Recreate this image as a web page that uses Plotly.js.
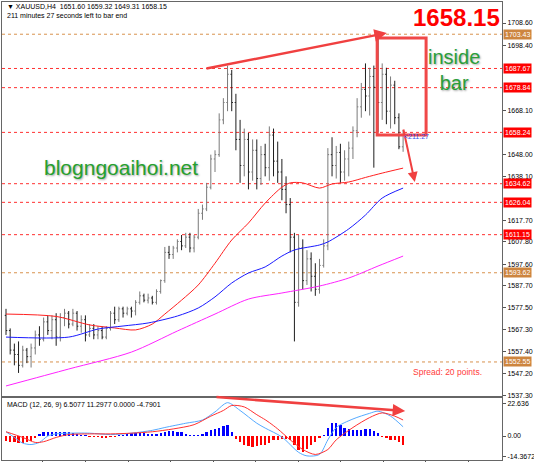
<!DOCTYPE html>
<html><head><meta charset="utf-8">
<script src="https://cdn.plot.ly/plotly-3.0.1.min.js"></script>
<style>html,body{margin:0;padding:0;background:#fff}#chart{width:534px;height:462px}</style>
</head><body><div id="chart"></div>
<script>
// ---- OHLC (XAUUSD, H4) ----
const openP  = [1574,1567,1558,1556,1551,1558,1555,1559,1565,1563,1571,1567,1572,1564,1573,1575,1570,1575,1569,1572,
                1565,1568,1565,1567,1564,1568,1575,1572,1577,1575,1577,1576,1580,1583,1581,1582,1580,1585,1590,1603,
                1602,1605,1608,1606,1610,1605,1610,1621,1623,1633,1646,1648,1664,1672,1685,1672,1655,1643,1655,1640,
                1650,1637,1648,1642,1657,1645,1640,1632,1625,1610,1580,1605,1590,1600,1592,1586,1597,1606,1648,1643,
                1649,1640,1646,1651,1659,1670,1678,1675,1684,1679,1672,1685,1668,1680,1665,1651.60];
const highP  = [1577,1568,1561,1562,1560,1559,1561,1567,1569,1573,1574,1574,1575,1575,1577,1576,1577,1576,1574,1574,
                1570,1570,1569,1569,1569,1576,1578,1578,1578,1578,1578,1581,1585,1584,1584,1583,1586,1590.5,1605.5,1606,
                1606,1609,1611,1612,1612,1611,1623,1625,1635,1648,1650,1667,1674,1689,1687,1676,1664,1660,1658,1655,
                1655,1652,1653,1661,1660,1654,1646,1638,1628,1612,1611,1609,1604,1603,1598,1600,1609,1651,1656,1652,
                1653,1650,1654,1661,1674,1681,1690,1688,1689,1703.43,1690,1688,1684,1682,1667,1659.32];
const lowP   = [1565,1556,1551,1547.5,1550,1552,1550,1556,1560,1562,1565,1563,1560,1562,1569,1568,1569,1567,1566,1562,
                1564,1563,1563,1563,1563,1567,1570,1571,1573,1574,1573,1574,1579,1580,1579.5,1579,1579,1584,1589,1600,
                1600,1603,1604,1605,1603,1603,1609,1618,1622,1632,1640,1647,1662,1668,1668,1650,1635,1638,1632,1636,
                1632,1634,1638,1636,1638,1635,1627,1621,1603,1562,1578,1586,1588,1585,1583,1584,1596,1604,1638,1637,
                1635,1636,1638,1646,1656,1665,1668,1666,1642,1658.24,1664,1662,1660,1662,1650.5,1649.31];
const closeP = [1567,1558,1556,1551,1558,1555,1559,1565,1563,1571,1567,1572,1564,1573,1575,1570,1575,1569,1572,1565,
                1568,1565,1567,1564,1568,1575,1572,1577,1575,1577,1576,1580,1583,1581,1582,1580,1585,1590,1603,1602,
                1605,1608,1606,1610,1605,1610,1621,1623,1633,1646,1648,1664,1672,1685,1672,1655,1643,1655,1640,1650,
                1637,1648,1642,1657,1645,1640,1632,1625,1610,1580,1605,1590,1600,1592,1586,1597,1606,1648,1643,1649,
                1640,1646,1651,1659,1670,1678,1675,1684,1679,1672,1685,1668,1680,1665,1651.6,1658.15];

// ---- Moving averages (read at selected bars) ----
const maRedIdx = [0,12,20,26,31,35,38,42,46,50,54,58,62,66,68,71,75,78,82,86,90,95];
const maRed    = [1574.6,1573.5,1569.6,1568.2,1567.3,1570,1574.6,1581,1588,1598,1608.7,1616.5,1625.7,1633,1635,1635,1632.6,1634.5,1635.4,1637.5,1639.5,1641.8];
const maBlueIdx = [0,15,22,28,34,41,46,50,54,58,62,66,69,75,77,82,86,90,95];
const maBlue    = [1564,1564,1567.7,1569.1,1570.5,1573.7,1577.4,1582.5,1588.9,1593.5,1596.3,1601.3,1604.1,1606.4,1607.8,1613.8,1620.2,1628.0,1632.6];
const maMagIdx = [0,15,30,41,50,58,66,75,82,89,95];
const maMag    = [1541.5,1549.3,1557.1,1566.8,1574.6,1581.5,1584.3,1587.5,1591.2,1596.7,1601.3];

// ---- MACD (12, 26, 9) ----
const macdHist = [-3.5,-4,-4.5,-5,-5,-4.5,-3.5,-1.5,
                  1.5,2.5,3,3,3,3,2.5,2.5,2,1.5,
                  0.8,0.5,-0.5,-1,-1,
                  -1.5,-1.5,-1,-0.5,
                  0.5,1,1.5,2,2,2,2,1.5,1.5,1.5,
                  2,3,3.5,3.5,3,2.5,
                  1.5,1,0.8,1,1.5,
                  3,4,5,6,7,8,
                  3,
                  -2,-4,-6,-7,-7.5,-7,-6.5,-6,-5,
                  -3,-2.5,-2,-2,-3,
                  -6,-10,-11,-9,-6,-4,-1.5,
                  1,6,9.5,9.5,8,6,5,4,4,4.5,5,5,3.5,2,
                  -1,-1.5,-2.5,-3,-4,-6];
const macdIdx = [0,2,4,6,8,10,12,15,20,25,30,35,38,43,47,50,53,56,60,62,66,70,72,75,77,79,83,87,89,92,95];
const macdMain = [3,-1,-5,-6,-4.5,0,1.5,2,2,1,2,4,6,9,11.3,17,23.5,18,9,5.6,-0.7,-11.5,-14,-13,-2.7,6,12,16,17.5,14,6.5077];
const sigIdx = [0,4,7,9,12,15,20,25,30,35,40,45,49,52,54,57,60,62,63,65,68,71,74,77,79,83,87,90,93,95];
const macdSignal = [3,-1,-4.5,-4,-1,1,1.5,1.5,2,3,5,8,14,18,21.5,20.5,15,11.5,9.5,5,-2.7,-9.5,-13,-9.5,-2.7,6,13,16.3,14,11.2977];

// ---- Levels and axis labels ----
const levelsRed = [1687.67,1678.84,1658.24,1634.62,1626.04,1611.15];
const levelsOrange = [1703.43,1593.62,1552.55];
const priceTicks = [1708.60,1698.40,1668.10,1648.00,1638.10,1617.70,1607.80,1597.60,1587.70,1577.50,1567.30,1557.40,1547.20,1537.30];
const macdTicks = [22.636,0,-14.3672];
const macdTickText = ['22.636','0.00','-14.3672'];

// ---- Hand-drawn objects (data units) ----
const trendMain = {x:[47.6,91.1], y:[1687.5,1704.0]};
const insideBox = {x:[88.8,100.5], y:[1657.0,1701.7]};
const downArrow = {x:[95.0,97.8], y:[1660.3,1635.4]};
const trendMacd = {x:[50.0,95.5], y:[27.5,17.6]};

const N = closeP.length;
const barIdx = Array.from({length:N},(_,i)=>i);
const FONT = 'Liberation Sans, Arial, sans-serif';

const traces = [
  {type:'ohlc', x:barIdx, open:openP, high:highP, low:lowP, close:closeP, xaxis:'x', yaxis:'y',
   increasing:{line:{color:'#7a7a7a', width:1}}, decreasing:{line:{color:'#1e1e1e', width:1}},
   tickwidth:0.3, hoverinfo:'skip'},
  {type:'scatter', mode:'lines', x:maRedIdx, y:maRed, line:{color:'#ff2020', width:1, shape:'spline', smoothing:0.8}, xaxis:'x', yaxis:'y', hoverinfo:'skip'},
  {type:'scatter', mode:'lines', x:maBlueIdx, y:maBlue, line:{color:'#1a1aff', width:1, shape:'spline', smoothing:0.8}, xaxis:'x', yaxis:'y', hoverinfo:'skip'},
  {type:'scatter', mode:'lines', x:maMagIdx, y:maMag, line:{color:'#ff22ff', width:1, shape:'spline', smoothing:0.8}, xaxis:'x', yaxis:'y', hoverinfo:'skip'},
  {type:'bar', x:barIdx, y:macdHist, width:0.55, marker:{color:macdHist.map(v=>v>=0?'#0000ff':'#ff0000'), line:{width:0}},
   xaxis:'x2', yaxis:'y2', hoverinfo:'skip'},
  {type:'scatter', mode:'lines', x:macdIdx, y:macdMain, line:{color:'#55aaff', width:1, shape:'spline', smoothing:0.8}, xaxis:'x2', yaxis:'y2', hoverinfo:'skip'},
  {type:'scatter', mode:'lines', x:sigIdx, y:macdSignal, line:{color:'#ff3030', width:1, shape:'spline', smoothing:0.8}, xaxis:'x2', yaxis:'y2', hoverinfo:'skip'}
];

const shapes = [];
levelsRed.forEach(v=>shapes.push({type:'line', xref:'paper', x0:0, x1:1, yref:'y', y0:v, y1:v, line:{color:'#ff3030', width:1, dash:'dot'}, layer:'below'}));
levelsOrange.forEach(v=>shapes.push({type:'line', xref:'paper', x0:0, x1:1, yref:'y', y0:v, y1:v, line:{color:'#d8924e', width:1, dash:'dot'}, layer:'below'}));
shapes.push({type:'rect', xref:'x', yref:'y', x0:insideBox.x[0], x1:insideBox.x[1], y0:insideBox.y[0], y1:insideBox.y[1],
  line:{color:'#f04848', width:3}, fillcolor:'rgba(0,0,0,0)'});

const ann = [];
levelsRed.forEach(v=>ann.push({xref:'paper', x:1, xanchor:'left', xshift:1, yref:'y', y:v, yanchor:'middle', showarrow:false,
  text:v.toFixed(2), bgcolor:'#ff0000', borderpad:1, font:{family:FONT, size:7, color:'#ffffff'}}));
levelsOrange.forEach(v=>ann.push({xref:'paper', x:1, xanchor:'left', xshift:1, yref:'y', y:v, yanchor:'middle', showarrow:false,
  text:v.toFixed(2), bgcolor:'#cd853f', borderpad:1, font:{family:FONT, size:7, color:'#ffffff'}}));

const arrowStyle = {text:'', showarrow:true, arrowhead:2, arrowsize:1, arrowwidth:2.5, arrowcolor:'#f04040', standoff:0};
ann.push(Object.assign({xref:'x', yref:'y', axref:'x', ayref:'y', x:trendMain.x[1], y:trendMain.y[1], ax:trendMain.x[0], ay:trendMain.y[0]}, arrowStyle));
ann.push(Object.assign({xref:'x', yref:'y', axref:'x', ayref:'y', x:downArrow.x[1], y:downArrow.y[1], ax:downArrow.x[0], ay:downArrow.y[0]}, arrowStyle, {arrowwidth:2}));
ann.push(Object.assign({xref:'x2', yref:'y2', axref:'x2', ayref:'y2', x:trendMacd.x[1], y:trendMacd.y[1], ax:trendMacd.x[0], ay:trendMacd.y[0]}, arrowStyle));

const px = p => (p-2)/500;
const py = p => 1-(p-2)/458;
ann.push({xref:'paper', yref:'paper', x:px(5), y:py(6.5), xanchor:'left', yanchor:'middle', showarrow:false,
  text:'▼ XAUUSD,H4  1651.60 1659.32 1649.31 1658.15', font:{family:FONT, size:7, color:'#000'}});
ann.push({xref:'paper', yref:'paper', x:px(5), y:py(15), xanchor:'left', yanchor:'middle', showarrow:false,
  text:'211 minutes 27 seconds left to bar end', font:{family:FONT, size:7, color:'#000'}});
ann.push({xref:'paper', yref:'paper', x:px(456), y:py(17), xanchor:'center', yanchor:'middle', showarrow:false,
  text:'1658.15', font:{family:FONT, size:24, color:'#ff0000', weight:'bold'}});
ann.push({xref:'paper', yref:'paper', x:px(454), y:py(70), xanchor:'center', yanchor:'middle', showarrow:false,
  text:'inside<br>bar', font:{family:FONT, size:20, color:'#2a9e3a', shadow:'1px 1px 2px rgba(0,0,0,0.35)'}});
ann.push({xref:'paper', yref:'paper', x:px(121), y:py(167), xanchor:'center', yanchor:'middle', showarrow:false,
  text:'blogngoaihoi.net', font:{family:FONT, size:21, color:'#26a02e', shadow:'1px 1px 2px rgba(0,0,0,0.35)'}});
ann.push({xref:'paper', yref:'paper', x:px(447), y:py(372), xanchor:'center', yanchor:'middle', showarrow:false,
  text:'Spread: 20 points.', font:{family:FONT, size:8.5, color:'#ff3b3b'}});
ann.push({xref:'paper', yref:'paper', x:px(402), y:py(136), xanchor:'left', yanchor:'middle', showarrow:false,
  text:'&lt;211:27', font:{family:FONT, size:7, color:'#3355ee'}});
ann.push({xref:'paper', yref:'paper', x:px(5), y:py(404.5), xanchor:'left', yanchor:'middle', showarrow:false,
  text:'MACD (12, 26, 9) 6.5077 11.2977 0.0000 -4.7901', font:{family:FONT, size:7, color:'#000'}});

const xr = [-0.957, 118.66];
const layout = {
  width:534, height:462, margin:{l:2, r:32, t:2, b:2}, paper_bgcolor:'#fff', plot_bgcolor:'#fff', showlegend:false,
  font:{family:FONT, size:7, color:'#000'},
  xaxis:{domain:[0,1], range:xr, anchor:'y', showticklabels:false, showgrid:false, zeroline:false, ticks:'',
         showline:true, mirror:true, linecolor:'#666', linewidth:1, rangeslider:{visible:false}, fixedrange:true},
  xaxis2:{domain:[0,1], range:xr, anchor:'y2', showticklabels:false, showgrid:false, zeroline:false,
         ticks:'outside', ticklen:3, tickcolor:'#555', tick0:8.85, dtick:10.17,
         showline:true, mirror:true, linecolor:'#666', linewidth:1, rangeslider:{visible:false}},
  yaxis:{domain:[0.1397,1], range:[1536.87,1718.27], anchor:'x', side:'right', tickvals:priceTicks,
         ticktext:priceTicks.map(v=>v.toFixed(2)), ticks:'outside', ticklen:3, tickcolor:'#555',
         tickfont:{family:FONT, size:7, color:'#000'}, showgrid:false, zeroline:false, showline:true, mirror:true, linecolor:'#666'},
  yaxis2:{domain:[0,0.1354], range:[-16.9,26.8], anchor:'x2', side:'right', tickvals:macdTicks, ticktext:macdTickText,
         ticks:'outside', ticklen:3, tickcolor:'#555', tickfont:{family:FONT, size:7, color:'#000'},
         showgrid:false, zeroline:false, showline:true, mirror:true, linecolor:'#666'},
  shapes:shapes, annotations:ann, bargap:0
};
Plotly.newPlot('chart', traces, layout, {staticPlot:true, displayModeBar:false});
</script></body></html>
